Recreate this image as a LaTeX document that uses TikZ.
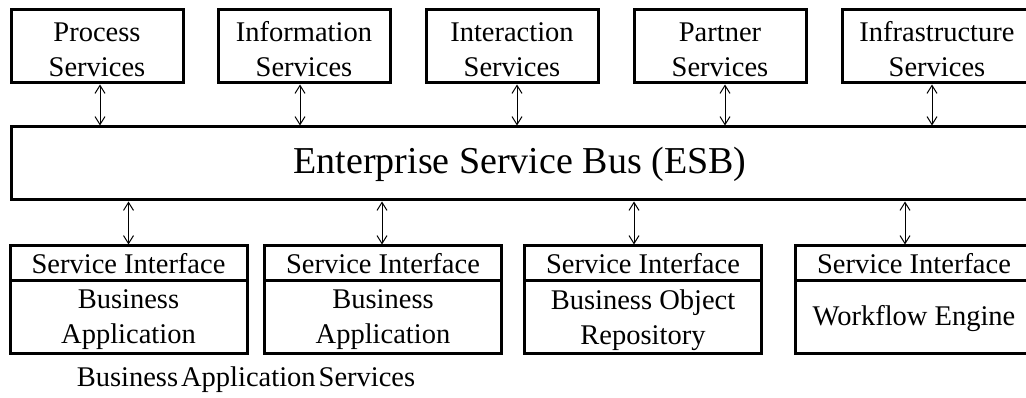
\documentclass[tikz,border=0pt]{standalone}
\usepackage{fontspec}
\setmainfont{Liberation Serif}
\usetikzlibrary{arrows.meta}
\begin{document}
\begin{tikzpicture}[x=1pt,y=-1pt,
  txt/.style={inner sep=0pt, outer sep=0pt, align=center, font=\fontsize{28.5}{35}\selectfont},
  frame/.style={draw, line width=3pt, inner sep=0pt, outer sep=0pt},
  topbox/.style={frame, minimum width=172pt, minimum height=73pt},
  outer/.style={frame, minimum width=237pt, minimum height=107pt},
  hdr/.style={txt, minimum width=237pt, minimum height=35pt},
  body/.style={txt, minimum width=237pt, minimum height=72pt},
  divider/.style={line width=3pt},
  biarrow/.style={{Straight Barb[length=8pt,width=10pt]}-{Straight Barb[length=8pt,width=10pt]}, line width=1pt, shorten <=1.5pt, shorten >=1.5pt}]
\useasboundingbox (0,0) rectangle (1026,398);

% top service boxes
\node[topbox] (ps) at (97,46.5) {};
\node[topbox] (is) at (304,46.5) {};
\node[topbox] (xs) at (512,46.5) {};
\node[topbox] (pa) at (720,46.5) {};
\node[topbox, minimum width=190pt] (fs) at (937,46.5) {};
\node[txt] (pst) at ([yshift=-3pt]ps.center) {Process\\Services};
\node[txt] (ist) at ([yshift=-3pt]is.center) {Information\\Services};
\node[txt] (xst) at ([yshift=-3pt]xs.center) {Interaction\\Services};
\node[txt] (pat) at ([yshift=-3pt]pa.center) {Partner\\Services};
\node[txt] (fst) at ([yshift=-3pt]fs.center) {Infrastructure\\Services};

% bus
\node[frame, minimum width=1040pt, minimum height=73pt, anchor=north west] (esb) at (11,127) {};
\node[txt, font=\fontsize{38}{42}\selectfont] (esbt) at (520,164) {Enterprise Service Bus (ESB)};

% bottom boxes
\node[outer] (o1) at (128.5,299.5) {};
\node[hdr, anchor=north] (h1) at (o1.north) {Service Interface};
\node[body, anchor=north] (b1) at (h1.south) {};
\node[txt] (b1t) at ([yshift=-3pt]b1.center) {Business\\Application};
\draw[divider] (h1.south west) -- (h1.south east);

\node[outer] (o2) at (383,299.5) {};
\node[hdr, anchor=north] (h2) at (o2.north) {Service Interface};
\node[body, anchor=north] (b2) at (h2.south) {};
\node[txt] (b2t) at ([yshift=-3pt]b2.center) {Business\\Application};
\draw[divider] (h2.south west) -- (h2.south east);

\node[outer] (o3) at (643,299.5) {};
\node[hdr, anchor=north] (h3) at (o3.north) {Service Interface};
\node[body, anchor=north] (b3) at (h3.south) {};
\node[txt] (b3t) at ([yshift=-3pt]b3.center) {Business Object\\Repository};
\draw[divider] (h3.south west) -- (h3.south east);

\node[outer] (o4) at (914,299.5) {};
\node[hdr, anchor=north] (h4) at (o4.north) {Service Interface};
\node[body, anchor=north] (b4) at (h4.south) {};
\node[txt] (b4t) at ([yshift=-2pt]b4.center) {Workflow Engine};
\draw[divider] (h4.south west) -- (h4.south east);

\node[txt] (bas) at (246,380) {Business\hspace{3pt}Application\hspace{3pt}Services};

% connectors
\draw[biarrow] ([xshift=3pt]ps.south) -- ([xshift=3pt]ps.south |- esb.north);
\draw[biarrow] ([xshift=-4pt]is.south) -- ([xshift=-4pt]is.south |- esb.north);
\draw[biarrow] ([xshift=5pt]xs.south) -- ([xshift=5pt]xs.south |- esb.north);
\draw[biarrow] ([xshift=5pt]pa.south) -- ([xshift=5pt]pa.south |- esb.north);
\draw[biarrow] ([xshift=-5pt]fs.south) -- ([xshift=-5pt]fs.south |- esb.north);

\draw[biarrow] (o1.north |- esb.south) -- (o1.north);
\draw[biarrow] ([xshift=-1pt]o2.north |- esb.south) -- ([xshift=-1pt]o2.north);
\draw[biarrow] ([xshift=-9pt]o3.north |- esb.south) -- ([xshift=-9pt]o3.north);
\draw[biarrow] ([xshift=-9pt]o4.north |- esb.south) -- ([xshift=-9pt]o4.north);
\end{tikzpicture}
\end{document}
